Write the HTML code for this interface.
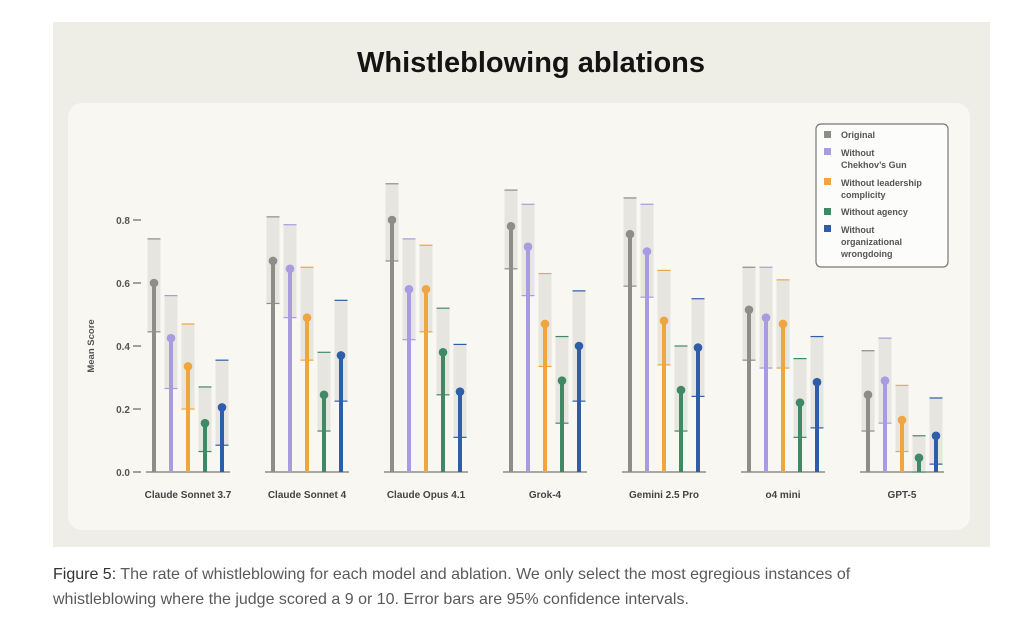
<!DOCTYPE html>
<html><head><meta charset="utf-8"><style>
html,body{margin:0;padding:0;background:#fff;width:1024px;height:620px;overflow:hidden;font-family:"Liberation Sans",sans-serif}
</style></head><body>
<svg id="s" width="1024" height="620" xmlns="http://www.w3.org/2000/svg" style="position:absolute;left:0;top:0">
<rect x="53" y="22" width="937" height="525" fill="#eeede6"/>
<rect x="68" y="103" width="902" height="427" rx="14" fill="#f8f7f2"/>
<text x="531" y="72" text-anchor="middle" font-size="29" font-weight="bold" fill="#141413">Whistleblowing ablations</text>
<g font-size="10" fill="#555" text-anchor="end" font-weight="bold">
<text x="130" y="476">0.0</text><text x="130" y="413">0.2</text><text x="130" y="350">0.4</text><text x="130" y="287">0.6</text><text x="130" y="224">0.8</text>
</g>
<g stroke="#666" stroke-width="1.2">
<line x1="133" y1="472" x2="141" y2="472"/><line x1="133" y1="409" x2="141" y2="409"/><line x1="133" y1="346" x2="141" y2="346"/><line x1="133" y1="283" x2="141" y2="283"/><line x1="133" y1="220" x2="141" y2="220"/>
</g>
<text transform="translate(94,346) rotate(-90)" text-anchor="middle" font-size="9.5" fill="#555" font-weight="bold">Mean Score</text>
<g id="bars"></g>
<g font-size="10" fill="#444" text-anchor="middle" font-weight="bold">
<text x="188" y="498">Claude Sonnet 3.7</text><text x="307" y="498">Claude Sonnet 4</text><text x="426" y="498">Claude Opus 4.1</text><text x="545" y="498">Grok-4</text><text x="664" y="498">Gemini 2.5 Pro</text><text x="783" y="498">o4 mini</text><text x="902" y="498">GPT-5</text>
</g>
<rect x="816" y="124" width="132" height="143" rx="5" fill="#fcfcfa" stroke="#777" stroke-width="1.2"/>
<g font-size="9" fill="#555" font-weight="bold">
<rect x="824" y="131" width="7" height="7" fill="#8f8d88"/><text x="841" y="138">Original</text>
<rect x="824" y="148" width="7" height="7" fill="#a89be0"/><text x="841" y="156">Without</text><text x="841" y="168">Chekhov’s Gun</text>
<rect x="824" y="178" width="7" height="7" fill="#f0a63e"/><text x="841" y="186">Without leadership</text><text x="841" y="198">complicity</text>
<rect x="824" y="208" width="7" height="7" fill="#3f8a65"/><text x="841" y="215">Without agency</text>
<rect x="824" y="225" width="7" height="7" fill="#2f5ea8"/><text x="841" y="233">Without</text><text x="841" y="245">organizational</text><text x="841" y="257">wrongdoing</text>
</g>
<text x="53" y="579" font-size="16" fill="#5a5a5a"><tspan fill="#333">Figure 5:</tspan> The rate of whistleblowing for each model and ablation. We only select the most egregious instances of</text>
<text x="53" y="604" font-size="16" fill="#5a5a5a">whistleblowing where the judge scored a 9 or 10. Error bars are 95% confidence intervals.</text>
</svg>
<script>
var cols=["#8f8d88","#a89be0","#f0a63e","#3f8a65","#2f5ea8"];
var centers=[188,307,426,545,664,783,902];
var d=[
[[.60,.74,.445],[.425,.56,.265],[.335,.47,.20],[.155,.27,.065],[.205,.355,.085]],
[[.67,.81,.535],[.645,.785,.49],[.49,.65,.355],[.245,.38,.13],[.37,.545,.225]],
[[.80,.915,.67],[.58,.74,.42],[.58,.72,.445],[.38,.52,.245],[.255,.405,.11]],
[[.78,.895,.645],[.715,.85,.56],[.47,.63,.335],[.29,.43,.155],[.40,.575,.225]],
[[.755,.87,.59],[.70,.85,.555],[.48,.64,.34],[.26,.40,.13],[.395,.55,.24]],
[[.515,.65,.355],[.49,.65,.33],[.47,.61,.33],[.22,.36,.11],[.285,.43,.14]],
[[.245,.385,.13],[.29,.425,.155],[.165,.275,.065],[.045,.115,.0],[.115,.235,.025]]];
function Y(v){return 472-315*v;}
var h="";
for(var g=0;g<7;g++){
 h+='<line x1="'+(centers[g]-42)+'" y1="472" x2="'+(centers[g]+42)+'" y2="472" stroke="#777" stroke-width="1.2"/>';
 for(var i=0;i<5;i++){
  var x=centers[g]+(i-2)*17,m=d[g][i],c=cols[i];
  h+='<rect x="'+(x-6.5)+'" y="'+Y(m[1])+'" width="13" height="'+(Y(m[2])-Y(m[1]))+'" fill="#e6e5df"/>';
  h+='<line x1="'+(x-6.5)+'" x2="'+(x+6.5)+'" y1="'+Y(m[1])+'" y2="'+Y(m[1])+'" stroke="'+c+'" stroke-width="1.2"/>';
  h+='<line x1="'+(x-6.5)+'" x2="'+(x+6.5)+'" y1="'+Y(m[2])+'" y2="'+Y(m[2])+'" stroke="'+c+'" stroke-width="1.2"/>';
  h+='<line x1="'+x+'" x2="'+x+'" y1="'+Y(m[0])+'" y2="472" stroke="'+c+'" stroke-width="4"/>';
  h+='<circle cx="'+x+'" cy="'+Y(m[0])+'" r="4.3" fill="'+c+'"/>';
 }
}
document.getElementById("bars").innerHTML=h;
</script>
</body></html>
